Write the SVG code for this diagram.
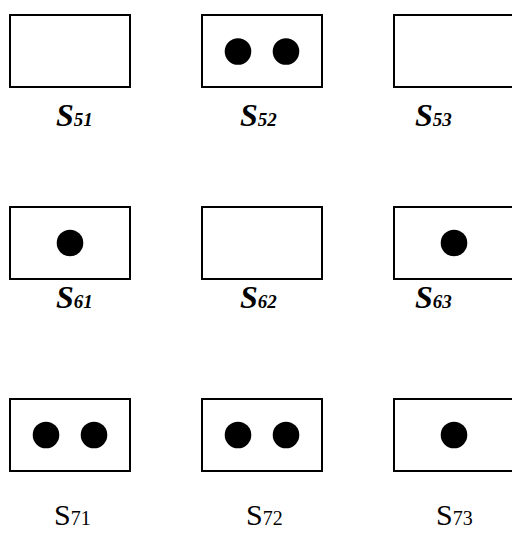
<svg xmlns="http://www.w3.org/2000/svg" width="512" height="534" viewBox="0 0 512 534">
<style>
.box{fill:#fff;stroke:#000;stroke-width:2}
.dot{fill:#000}
.lb{font-family:"Liberation Serif","Times New Roman",serif;font-weight:bold;font-style:italic;font-size:32px;fill:#000}
.lr{font-family:"Liberation Serif","Times New Roman",serif;font-size:30px;fill:#000}
.sub{font-size:19px}
.subr{font-size:20px}
</style>
<rect width="512" height="534" fill="#fff"/>
<g id="connectors"/>
<g id="S51"><rect class="box" x="10" y="15" width="120" height="72"/><text class="lb" x="56" y="126">S<tspan class="sub">51</tspan></text></g>
<g id="S52"><rect class="box" x="202" y="15" width="120" height="72"/><circle class="dot" cx="238" cy="51.5" r="13.3"/><circle class="dot" cx="286" cy="51.5" r="13.3"/><text class="lb" x="240" y="126">S<tspan class="sub">52</tspan></text></g>
<g id="S53"><rect class="box" x="394" y="15" width="120" height="72"/><text class="lb" x="415" y="126">S<tspan class="sub">53</tspan></text></g>
<g id="S61"><rect class="box" x="10" y="207" width="120" height="72"/><circle class="dot" cx="70" cy="243" r="13.3"/><text class="lb" x="56" y="308">S<tspan class="sub">61</tspan></text></g>
<g id="S62"><rect class="box" x="202" y="207" width="120" height="72"/><text class="lb" x="240" y="308">S<tspan class="sub">62</tspan></text></g>
<g id="S63"><rect class="box" x="394" y="207" width="120" height="72"/><circle class="dot" cx="454" cy="243" r="13.3"/><text class="lb" x="415" y="308">S<tspan class="sub">63</tspan></text></g>
<g id="S71"><rect class="box" x="10" y="399" width="120" height="72"/><circle class="dot" cx="46" cy="435" r="13.3"/><circle class="dot" cx="94" cy="435" r="13.3"/><text class="lr" x="54" y="525">S<tspan class="subr">71</tspan></text></g>
<g id="S72"><rect class="box" x="202" y="399" width="120" height="72"/><circle class="dot" cx="238" cy="435" r="13.3"/><circle class="dot" cx="286" cy="435" r="13.3"/><text class="lr" x="246" y="525">S<tspan class="subr">72</tspan></text></g>
<g id="S73"><rect class="box" x="394" y="399" width="120" height="72"/><circle class="dot" cx="454" cy="435" r="13.3"/><text class="lr" x="436" y="525">S<tspan class="subr">73</tspan></text></g>
</svg>
